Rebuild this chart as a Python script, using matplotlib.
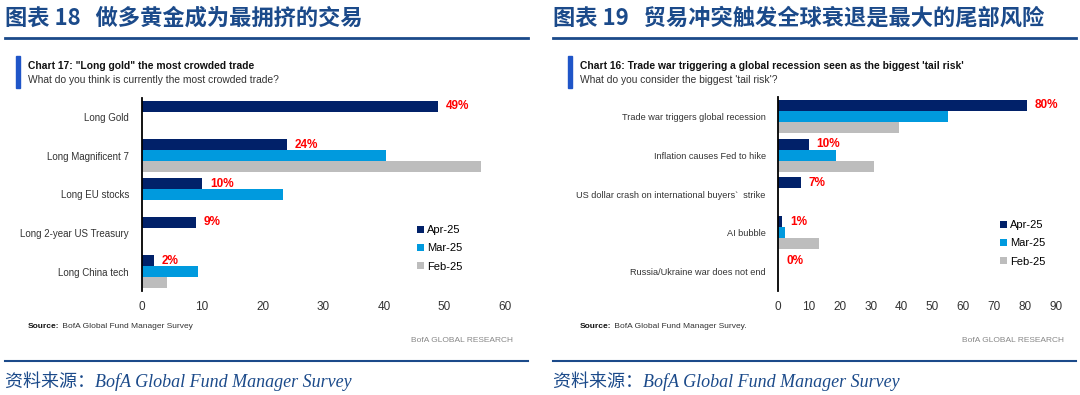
import numpy as np
import matplotlib
matplotlib.use('Agg')
import matplotlib.pyplot as plt
from matplotlib.lines import Line2D
from matplotlib.patches import Rectangle

# ---- data ----
series = ['Apr-25', 'Mar-25', 'Feb-25']

cat_left = ['Long Gold', 'Long Magnificent 7', 'Long EU stocks',
            'Long 2-year US Treasury', 'Long China tech']
apr_left = [49, 24, 10, 9, 2]
mar_left = [0, 40.4, 23.4, 0, 9.4]
feb_left = [0, 56, 0, 0, 4.2]
lab_left = ['49%', '24%', '10%', '9%', '2%']
ticks_left = [0, 10, 20, 30, 40, 50, 60]

cat_right = ['Trade war triggers global recession', 'Inflation causes Fed to hike',
             'US dollar crash on international buyers`  strike', 'AI bubble',
             'Russia/Ukraine war does not end']
apr_right = [80.6, 9.8, 7.3, 1.3, 0]
mar_right = [55.1, 18.7, 0, 2.3, 0]
feb_right = [39.2, 31.1, 0, 13.2, 0]
lab_right = ['80%', '10%', '7%', '1%', '0%']
ticks_right = [0, 10, 20, 30, 40, 50, 60, 70, 80, 90]

colors = ['#012169', '#009ADE', '#BDBDBD']
navy = '#1B4A8A'
W, H = 1080, 395

narrow = ['Liberation Sans Narrow', 'Liberation Sans', 'DejaVu Sans']
cjk = ['Noto Sans CJK SC', 'DejaVu Sans']
ital = ['Liberation Serif', 'Noto Sans CJK SC']


def P(x, y):
    return x / W, 1 - y / H


fig = plt.figure(figsize=(10.8, 3.95), dpi=100)


def panel(x0, tx, ax_box, cats, apr, mar, feb, labs, ticks, xmax, leg_xy,
          head, title, sub, src, rx, catsize):
    # header
    fig.text(*P(x0, 18), head, family=cjk, weight='bold', fontsize=16,
             color=navy, va='center', ha='left')
    fig.add_artist(Line2D([x0 / W, (x0 + 523) / W], [1 - 38 / H] * 2,
                          color=navy, lw=2, transform=fig.transFigure))
    fig.add_artist(Line2D([x0 / W, (x0 + 523) / W], [1 - 361 / H] * 2,
                          color=navy, lw=1.5, transform=fig.transFigure))
    fig.text(*P(x0, 381), '资料来源：BofA Global Fund Manager Survey',
             family=ital, style='italic', fontsize=13, color=navy,
             va='center', ha='left')
    # chart title block
    fig.add_artist(Rectangle(P(tx - 12, 88), 4 / W, 32 / H, color='#1F55C8',
                             transform=fig.transFigure))
    fig.text(*P(tx, 66), title, family=narrow, weight='bold',
             fontsize=7.4, color='#111111', va='center')
    fig.text(*P(tx, 80), sub, family=narrow, fontsize=7.4,
             color='#333333', va='center')

    ax = fig.add_axes(ax_box)
    y = np.arange(len(cats))
    h = 0.284
    for k, vals in enumerate([apr, mar, feb]):
        ax.barh(y + (k - 1) * h, vals, height=h, color=colors[k],
                label=series[k])
    for i in range(len(cats)):
        ax.annotate(labs[i], (apr[i], y[i] - h), xytext=(8, 0),
                    textcoords='offset pixels', color='#FF0000',
                    weight='bold', fontsize=8.5, va='center', ha='left',
                    family=narrow)
    ax.set_ylim(len(cats) - 0.5, -0.5)
    ax.set_xlim(0, xmax)
    ax.set_yticks(y)
    ax.set_yticklabels(cats, family=narrow, fontsize=catsize, color='#333333')
    ax.set_xticks(ticks)
    ax.set_xticklabels([str(t) for t in ticks], family=narrow,
                       fontsize=8.5, color='#333333')
    ax.tick_params(length=0, axis='y', pad=9)
    ax.tick_params(length=0, axis='x', pad=7)
    for s in ['top', 'right', 'bottom']:
        ax.spines[s].set_visible(False)
    ax.spines['left'].set_linewidth(1.3)
    ax.set_facecolor('none')

    ax.legend(loc='upper left', bbox_to_anchor=P(*leg_xy), frameon=False,
              bbox_transform=fig.transFigure, prop={'family': narrow, 'size': 8},
              handlelength=0.6, handleheight=0.6, handletextpad=0.3,
              labelspacing=0.75, borderpad=0, borderaxespad=0)

    t1 = fig.text(*P(tx, 327), 'Source:', family=narrow, weight='bold',
                  fontsize=6, color='#111111', va='center')
    ax.annotate(' BofA Global Fund Manager Survey' + src, xy=(1, 0.5),
                xycoords=t1, va='center', ha='left', family=narrow,
                fontsize=6, color='#333333', annotation_clip=False)
    fig.text(*P(rx, 340), 'BofA GLOBAL RESEARCH', family=narrow, fontsize=6,
             color='#888888', va='center', ha='right')


panel(5, 28, [141.5 / W, 1 - 291 / H, 363.5 / W, 193 / H],
      cat_left, apr_left, mar_left, feb_left, lab_left, ticks_left, 60,
      (417, 225), '图表 18   做多黄金成为最拥挤的交易',
      'Chart 17: "Long gold" the most crowded trade',
      'What do you think is currently the most crowded trade?', '', 513, 7)

panel(553, 580, [778.3 / W, 1 - 291 / H, 277.7 / W, 194 / H],
      cat_right, apr_right, mar_right, feb_right, lab_right, ticks_right, 90,
      (1000, 220), '图表 19   贸易冲突触发全球衰退是最大的尾部风险',
      "Chart 16: Trade war triggering a global recession seen as the biggest 'tail risk'",
      "What do you consider the biggest 'tail risk'?", '.', 1064, 6.6)

fig.savefig('out.png', dpi=100)
